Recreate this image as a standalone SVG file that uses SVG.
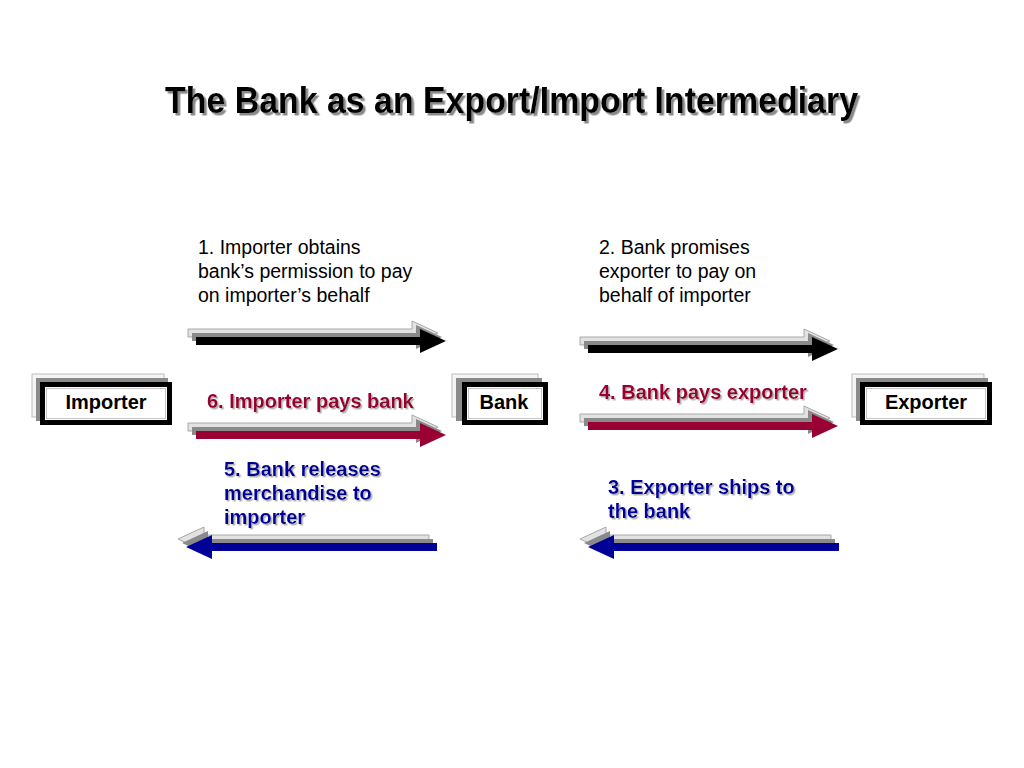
<svg xmlns="http://www.w3.org/2000/svg" width="1024" height="768" viewBox="0 0 1024 768">
<defs>
<style>
.t{font-family:"Liberation Sans",Arial,sans-serif}
.title{font-size:37px;font-weight:bold}
.box{font-size:20px;font-weight:bold;text-anchor:middle}
.lab{font-size:19.5px}
.bl{font-size:20px;font-weight:bold}
.lt{fill:#e2e2e2;stroke:#a8a8a8;stroke-width:1}
.md{fill:#8a8a8a}
.fr{fill:#fff;stroke:#000;stroke-width:5}
.in{fill:none;stroke:#c4c4c4;stroke-width:1}
.lb{fill:#f4f4f4;stroke:#bdbdbd;stroke-width:1}
</style>
<filter id="tsh" x="-5%" y="-20%" width="110%" height="150%">
<feDropShadow dx="2.5" dy="2.5" stdDeviation="0.6" flood-color="#8a8a8a" flood-opacity="1"/>
</filter>
<filter id="lsh" x="-5%" y="-20%" width="110%" height="150%">
<feDropShadow dx="1.5" dy="1.5" stdDeviation="0.5" flood-color="#b0b0b0" flood-opacity="1"/>
</filter>
<path id="ar" d="M0,-4 H224 V-12 L250,0 L224,12 V4 H0 Z"/>
<path id="al" d="M0,0 L26,-12 V-4 H251 V4 H26 V12 Z"/>
</defs>
<rect width="1024" height="768" fill="#fff"/>

<g id="title">
<text class="t title" x="165" y="113" textLength="693" lengthAdjust="spacingAndGlyphs" fill="#000" filter="url(#tsh)">The Bank as an Export/Import Intermediary</text>
</g>

<g id="importer">
<rect class="lb" x="32" y="374" width="132" height="43"/>
<rect class="md" x="36" y="378" width="132" height="43"/>
<rect class="fr" x="42.5" y="384.5" width="127" height="38"/>
<rect class="in" x="46.5" y="388.5" width="119" height="30"/>
<text class="t box" x="106" y="409">Importer</text>
</g>
<g id="bank">
<rect class="lb" x="452" y="374" width="86" height="43"/>
<rect class="md" x="456" y="378" width="86" height="43"/>
<rect class="fr" x="464.5" y="384.5" width="81" height="38"/>
<rect class="in" x="468.5" y="388.5" width="73" height="30"/>
<text class="t box" x="504" y="409">Bank</text>
</g>
<g id="exporter">
<rect class="lb" x="852" y="374" width="132" height="43"/>
<rect class="md" x="856" y="378" width="132" height="43"/>
<rect class="fr" x="862.5" y="384.5" width="127" height="38"/>
<rect class="in" x="866.5" y="388.5" width="119" height="30"/>
<text class="t box" x="926" y="409">Exporter</text>
</g>

<g id="connectors">
<g id="a1">
<use href="#ar" class="lt" x="188" y="333"/>
<use href="#ar" class="md" x="192" y="337"/>
<use href="#ar" x="196" y="341" fill="#000"/>
</g>
<g id="a6">
<use href="#ar" class="lt" x="188" y="427"/>
<use href="#ar" class="md" x="192" y="431"/>
<use href="#ar" x="196" y="435" fill="#990033"/>
</g>
<g id="a2">
<use href="#ar" class="lt" x="580" y="341"/>
<use href="#ar" class="md" x="584" y="345"/>
<use href="#ar" x="588" y="349" fill="#000"/>
</g>
<g id="a4">
<use href="#ar" class="lt" x="580" y="418"/>
<use href="#ar" class="md" x="584" y="422"/>
<use href="#ar" x="588" y="426" fill="#990033"/>
</g>
<g id="a5">
<use href="#al" class="lt" x="178" y="539"/>
<use href="#al" class="md" x="182" y="543"/>
<use href="#al" x="186" y="547" fill="#000099"/>
</g>
<g id="a3">
<use href="#al" class="lt" x="580" y="539"/>
<use href="#al" class="md" x="584" y="543"/>
<use href="#al" x="588" y="547" fill="#000099"/>
</g>
</g>

<g id="labels">
<text class="t lab" fill="#000"><tspan x="198" y="254">1. Importer obtains</tspan><tspan x="198" y="278">bank’s permission to pay</tspan><tspan x="198" y="302">on importer’s behalf</tspan></text>
<text class="t lab" fill="#000"><tspan x="599" y="254">2. Bank promises</tspan><tspan x="599" y="278">exporter to pay on</tspan><tspan x="599" y="302">behalf of importer</tspan></text>

<text class="t bl" x="207" y="408" fill="#990033" filter="url(#lsh)">6. Importer pays bank</text>
<text class="t bl" x="599" y="399" fill="#990033" filter="url(#lsh)">4. Bank pays exporter</text>
<text class="t bl" fill="#000099" filter="url(#lsh)"><tspan x="224" y="476">5. Bank releases</tspan><tspan x="224" y="500">merchandise to</tspan><tspan x="224" y="524">importer</tspan></text>
<text class="t bl" fill="#000099" filter="url(#lsh)"><tspan x="608" y="494">3. Exporter ships to</tspan><tspan x="608" y="518">the bank</tspan></text>
</g>
</svg>
